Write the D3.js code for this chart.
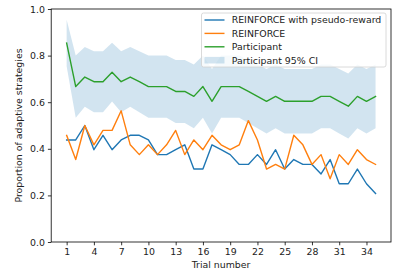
<!DOCTYPE html>
<html>
<head>
<meta charset="utf-8">
<script src="https://cdn.jsdelivr.net/npm/d3@7"></script>
<style>
  body { margin: 0; background: #fff; }
  svg { display: block; font-family: 'DejaVu Sans', sans-serif; }
</style>
</head>
<body>
<div id="chart"></div>
<script>
'use strict';

//data, one value per trial
let trials = [1, 2, 3, 4, 5, 6, 7, 8, 9, 10, 11, 12, 13, 14, 15, 16, 17, 18, 19, 20,
  21, 22, 23, 24, 25, 26, 27, 28, 29, 30, 31, 32, 33, 34, 35];
let xTicks = [1, 4, 7, 10, 13, 16, 19, 22, 25, 28, 31, 34];
let yTicks = [0, 0.2, 0.4, 0.6, 0.8, 1.0];

let pseudoReward = [0.438, 0.438, 0.500, 0.396, 0.458, 0.396, 0.438, 0.458, 0.458, 0.438,
  0.375, 0.375, 0.396, 0.417, 0.313, 0.313, 0.417, 0.396, 0.375, 0.333,
  0.333, 0.375, 0.333, 0.396, 0.313, 0.354, 0.333, 0.333, 0.292, 0.354,
  0.250, 0.250, 0.313, 0.250, 0.208];
let reinforce = [0.458, 0.354, 0.500, 0.417, 0.479, 0.479, 0.563, 0.417, 0.375, 0.417,
  0.375, 0.417, 0.479, 0.375, 0.438, 0.396, 0.458, 0.417, 0.396, 0.417,
  0.521, 0.438, 0.313, 0.333, 0.313, 0.458, 0.417, 0.333, 0.375, 0.271,
  0.375, 0.333, 0.396, 0.354, 0.333];
let participant = [0.854, 0.667, 0.708, 0.688, 0.688, 0.729, 0.688, 0.708, 0.688, 0.667,
  0.667, 0.667, 0.646, 0.646, 0.625, 0.667, 0.604, 0.667, 0.667, 0.667,
  0.646, 0.625, 0.604, 0.625, 0.604, 0.604, 0.604, 0.604, 0.625, 0.625,
  0.604, 0.583, 0.625, 0.604, 0.625];
let ciLow = [0.754, 0.533, 0.580, 0.557, 0.557, 0.603, 0.557, 0.580, 0.557, 0.533,
  0.533, 0.533, 0.511, 0.511, 0.488, 0.533, 0.466, 0.533, 0.533, 0.533,
  0.511, 0.488, 0.466, 0.488, 0.466, 0.466, 0.466, 0.466, 0.488, 0.488,
  0.466, 0.444, 0.488, 0.466, 0.488];
let ciHigh = [0.954, 0.800, 0.837, 0.819, 0.819, 0.855, 0.819, 0.837, 0.819, 0.800,
  0.800, 0.800, 0.781, 0.781, 0.762, 0.800, 0.742, 0.800, 0.800, 0.800,
  0.781, 0.762, 0.742, 0.762, 0.742, 0.742, 0.742, 0.742, 0.762, 0.762,
  0.742, 0.723, 0.762, 0.742, 0.762];

let legendLabels = ['REINFORCE with pseudo-reward', 'REINFORCE', 'Participant', 'Participant 95% CI'];
let colors = ['#1f77b4', '#ff7f0e', '#2ca02c'];

//size of the page and the plot box
let width = 398;
let height = 275;
let plotLeft = 51.2;
let plotRight = 391;
let plotTop = 9;
let plotBottom = 242;
let fontSize = 9.4;

let svg = d3.select('#chart')
  .append('svg')
  .attr('width', width)
  .attr('height', height);

//scales, matplotlib style 5% padding on x
let xScale = d3.scaleLinear().domain([-0.7, 36.7]).range([plotLeft, plotRight]);
let yScale = d3.scaleLinear().domain([0, 1]).range([plotBottom, plotTop]);

//confidence band first so the lines sit on top
let band = d3.area()
  .x((d, i) => xScale(trials[i]))
  .y0((d, i) => yScale(ciLow[i]))
  .y1((d, i) => yScale(ciHigh[i]));

svg.append('path')
  .datum(trials)
  .attr('d', band)
  .attr('fill', '#1f77b4')
  .attr('fill-opacity', 0.2);

//the three lines
let line = d3.line()
  .x((d, i) => xScale(trials[i]))
  .y(d => yScale(d));

[pseudoReward, reinforce, participant].forEach((series, k) => {
  svg.append('path')
    .datum(series)
    .attr('d', line)
    .attr('fill', 'none')
    .attr('stroke', colors[k])
    .attr('stroke-width', 1.4)
    .attr('stroke-linejoin', 'round')
    .attr('stroke-linecap', 'square');
});

//axes
let xAxis = d3.axisBottom(xScale).tickValues(xTicks).tickSize(3.3).tickPadding(3).tickFormat(d3.format('d'));
let yAxis = d3.axisLeft(yScale).tickValues(yTicks).tickSize(3.3).tickPadding(3).tickFormat(d3.format('.1f'));

let gx = svg.append('g')
  .attr('transform', `translate(0, ${plotBottom})`)
  .call(xAxis);
let gy = svg.append('g')
  .attr('transform', `translate(${plotLeft}, 0)`)
  .call(yAxis);

[gx, gy].forEach(g => {
  g.select('.domain').remove();
  g.selectAll('line').attr('stroke', '#000').attr('stroke-width', 0.8);
  g.selectAll('text')
    .attr('fill', '#222')
    .style('font-size', fontSize + 'px')
    .style('font-family', 'DejaVu Sans, sans-serif');
});

//the box around the plot
svg.append('rect')
  .attr('x', plotLeft)
  .attr('y', plotTop)
  .attr('width', plotRight - plotLeft)
  .attr('height', plotBottom - plotTop)
  .attr('fill', 'none')
  .attr('stroke', '#000')
  .attr('stroke-width', 0.8);

//axis titles
svg.append('text')
  .attr('x', (plotLeft + plotRight) / 2)
  .attr('y', 268)
  .attr('text-anchor', 'middle')
  .attr('fill', '#222')
  .style('font-size', fontSize + 'px')
  .text('Trial number');

svg.append('text')
  .attr('transform', `translate(22, ${(plotTop + plotBottom) / 2}) rotate(-90)`)
  .attr('text-anchor', 'middle')
  .attr('fill', '#222')
  .style('font-size', fontSize + 'px')
  .text('Proportion of adaptive strategies');

//legend in the upper right
let legend = svg.append('g').attr('transform', 'translate(201.5, 13)');

legend.append('rect')
  .attr('width', 184.5)
  .attr('height', 54)
  .attr('rx', 2)
  .attr('fill', '#fff')
  .attr('fill-opacity', 0.8)
  .attr('stroke', '#d0d0d0')
  .attr('stroke-width', 0.8);

legendLabels.forEach((label, i) => {
  let cy = 7 + i * 13.4;
  if (i < 3) {
    legend.append('line')
      .attr('x1', 3).attr('x2', 23)
      .attr('y1', cy).attr('y2', cy)
      .attr('stroke', colors[i])
      .attr('stroke-width', 1.4);
  } else {
    legend.append('rect')
      .attr('x', 3).attr('y', cy - 3.3)
      .attr('width', 20).attr('height', 6.6)
      .attr('fill', '#1f77b4')
      .attr('fill-opacity', 0.2);
  }
  legend.append('text')
    .attr('x', 30.2)
    .attr('y', cy + 3.4)
    .attr('fill', '#222')
    .style('font-size', fontSize + 'px')
    .text(label);
});
</script>
</body>
</html>
